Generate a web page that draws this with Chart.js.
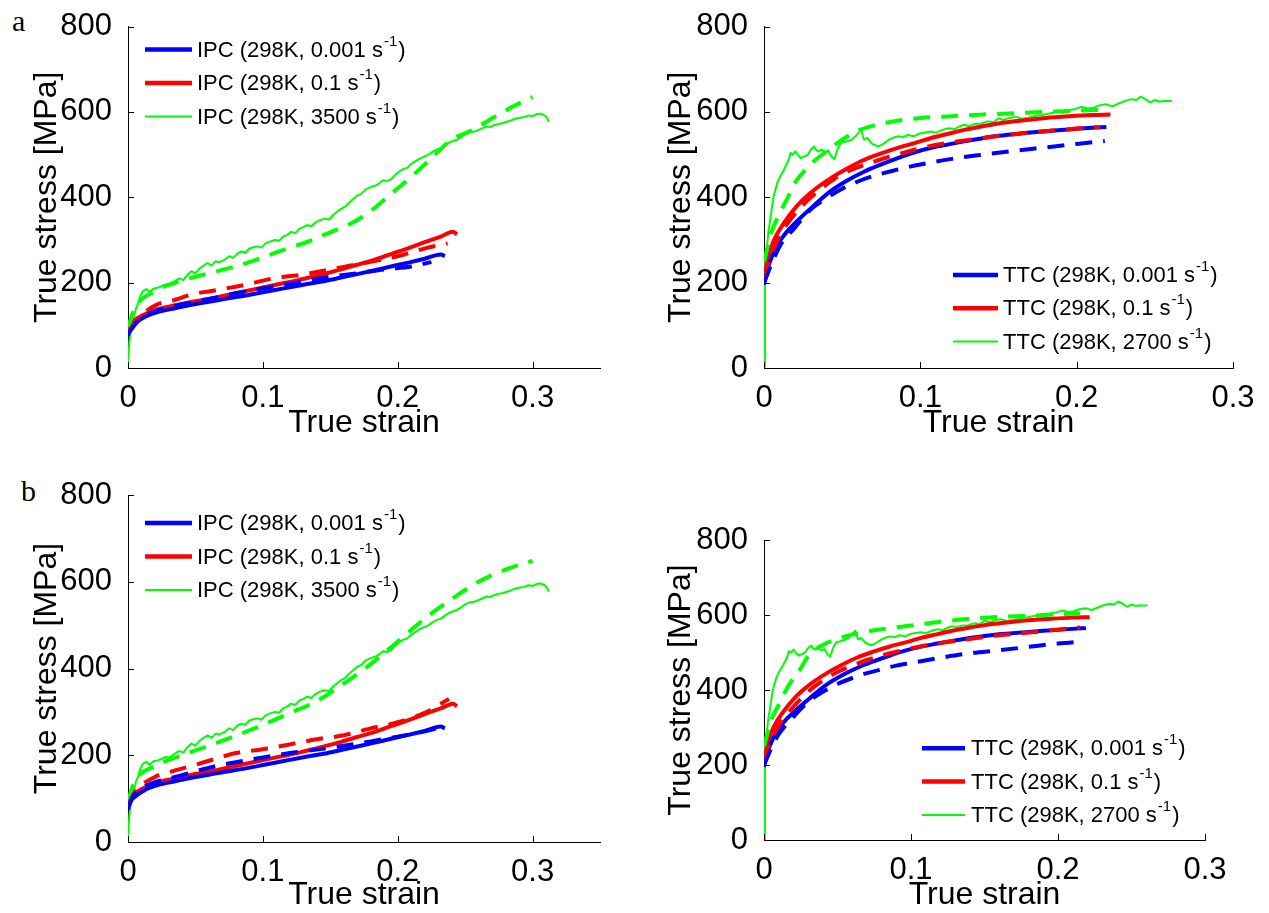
<!DOCTYPE html>
<html><head><meta charset="utf-8">
<script src="https://cdn.jsdelivr.net/npm/chart.js@4.4.1/dist/chart.umd.min.js"></script>
<style>
html,body{margin:0;padding:0;background:#fff;}
#wrap{position:relative;width:1269px;height:913px;overflow:hidden;background:#fff;}
canvas{position:absolute;}
.tag{position:absolute;font-family:"Liberation Serif","Times New Roman",serif;font-size:30px;line-height:30px;color:#000;}
</style></head>
<body><div id="wrap">
<div class="tag" style="left:12px;top:6px">a</div>
<div class="tag" style="left:21px;top:476px">b</div>
<canvas id="c1" width="630" height="450" style="left:0;top:0"></canvas>
<canvas id="c2" width="639" height="450" style="left:630px;top:0"></canvas>
<canvas id="c3" width="630" height="453" style="left:0;top:460px"></canvas>
<canvas id="c4" width="639" height="453" style="left:630px;top:460px"></canvas>
</div>
<script>
// ---------- tick labels / axes ----------
const yTicks = [0, 200, 400, 600, 800];
const xTicks = [0, 0.1, 0.2, 0.3];
const xTitle = 'True strain';
const yTitle = 'True stress [MPa]';

// ---------- legend labels ----------
const ipcLegend = ['IPC (298K, 0.001 s', 'IPC (298K, 0.1 s', 'IPC (298K, 3500 s'];
const ttcLegend = ['TTC (298K, 0.001 s', 'TTC (298K, 0.1 s', 'TTC (298K, 2700 s'];

// ---------- IPC experimental [strain, stress MPa] ----------
const ipcExp001 = [[0,75],[0.002,95],[0.005,104],[0.012,119],[0.022,131],[0.035,140],[0.047,148],[0.06,155],[0.072,162],[0.084,168],[0.096,175],[0.108,182],[0.121,190],[0.133,197],[0.146,204],[0.158,212],[0.17,220],[0.183,229],[0.195,238],[0.208,247],[0.22,256],[0.232,266],[0.235,262]];
const ipcExp01 = [[0,80],[0.002,100],[0.005,112],[0.012,125],[0.022,138],[0.035,147],[0.047,155],[0.06,162],[0.072,170],[0.084,178],[0.096,186],[0.108,194],[0.121,202],[0.133,211],[0.146,221],[0.158,231],[0.17,242],[0.183,254],[0.195,267],[0.208,281],[0.22,295],[0.232,308],[0.241,319],[0.244,313]];
const ipcExp3500 = [[0,10],[0.001,60],[0.0025,104],[0.004,115],[0.006,140],[0.0074,150],[0.009,168],[0.011,180],[0.0136,185],[0.016,178],[0.019,186],[0.022,188],[0.025,192],[0.028,196],[0.031,195],[0.035,204],[0.038,210],[0.041,206],[0.044,218],[0.047,227],[0.05,222],[0.053,233],[0.056,240],[0.059,246],[0.062,240],[0.065,250],[0.068,248],[0.072,254],[0.075,262],[0.078,258],[0.081,268],[0.084,273],[0.087,270],[0.09,280],[0.093,283],[0.096,285],[0.099,282],[0.102,292],[0.105,296],[0.109,300],[0.112,298],[0.115,308],[0.118,312],[0.121,319],[0.124,316],[0.127,326],[0.13,330],[0.133,335],[0.136,332],[0.139,341],[0.142,346],[0.146,350],[0.149,348],[0.152,358],[0.155,366],[0.158,373],[0.161,378],[0.164,388],[0.167,396],[0.17,404],[0.173,408],[0.176,418],[0.18,424],[0.183,427],[0.186,432],[0.189,440],[0.192,438],[0.195,442],[0.198,452],[0.201,460],[0.204,466],[0.207,469],[0.21,478],[0.213,484],[0.216,490],[0.22,496],[0.223,500],[0.226,507],[0.229,512],[0.232,515],[0.235,522],[0.238,528],[0.241,532],[0.244,535],[0.247,541],[0.25,548],[0.253,552],[0.257,554],[0.26,558],[0.263,562],[0.266,566],[0.269,565],[0.272,570],[0.275,572],[0.278,574],[0.281,577],[0.284,580],[0.287,584],[0.29,586],[0.294,588],[0.297,592],[0.3,590],[0.303,595],[0.306,596],[0.309,592],[0.311,585],[0.312,577]];

// ---------- IPC model, panel a ----------
const ipcModA001 = [[0,80],[0.008,112],[0.022,135],[0.035,146],[0.05,156],[0.065,165],[0.08,175],[0.095,184],[0.11,192],[0.125,200],[0.14,209],[0.155,216],[0.17,222],[0.19,231],[0.21,238],[0.225,248]];
const ipcModA01 = [[0,85],[0.008,118],[0.021,148],[0.035,160],[0.048,173],[0.063,181],[0.077,189],[0.09,197],[0.103,207],[0.116,214],[0.13,219],[0.143,227],[0.16,237],[0.175,246],[0.19,255],[0.205,266],[0.221,281],[0.237,292]];
const ipcModA3500 = [[0,95],[0.005,140],[0.02,180],[0.04,205],[0.06,222],[0.075,234],[0.09,248],[0.105,265],[0.12,282],[0.135,298],[0.15,318],[0.165,338],[0.18,368],[0.195,408],[0.21,448],[0.225,492],[0.24,535],[0.255,557],[0.27,585],[0.285,612],[0.3,635]];

// ---------- IPC model, panel b ----------
const ipcModB001 = [[0,80],[0.005,110],[0.02,138],[0.035,150],[0.05,163],[0.065,175],[0.08,184],[0.1,195],[0.12,205],[0.14,213],[0.16,222],[0.18,232],[0.2,243],[0.22,255],[0.232,265]];
const ipcModB01 = [[0,85],[0.005,115],[0.02,150],[0.035,165],[0.05,178],[0.065,192],[0.08,205],[0.1,214],[0.12,225],[0.14,237],[0.16,246],[0.18,262],[0.2,276],[0.22,298],[0.238,330]];
const ipcModB3500 = [[0,95],[0.005,140],[0.02,175],[0.04,200],[0.06,222],[0.08,245],[0.1,270],[0.12,297],[0.14,325],[0.16,365],[0.18,410],[0.2,462],[0.22,515],[0.24,560],[0.26,600],[0.28,628],[0.3,648]];

// ---------- TTC experimental ----------
const ttcExp001 = [[0,195],[0.002,228],[0.0064,273],[0.0128,311],[0.0214,345],[0.032,381],[0.0428,415],[0.0535,440],[0.064,460],[0.075,477],[0.0856,492],[0.096,505],[0.107,516],[0.118,524],[0.128,531],[0.139,538],[0.15,544],[0.165,550],[0.18,555],[0.195,559],[0.21,563],[0.219,565]];
const ttcExp01 = [[0,205],[0.002,250],[0.0064,300],[0.0128,340],[0.0214,381],[0.032,417],[0.0428,445],[0.0535,468],[0.0642,488],[0.075,503],[0.0856,516],[0.0963,527],[0.107,539],[0.118,549],[0.128,558],[0.139,566],[0.15,573],[0.165,580],[0.18,586],[0.195,590],[0.21,593],[0.2216,594]];
const ttcExp2700 = [[0,3],[0.0006,250],[0.0017,275],[0.0028,320],[0.0043,355],[0.006,400],[0.0086,435],[0.0105,450],[0.0128,465],[0.0146,478],[0.016,490],[0.017,504],[0.0185,500],[0.02,508],[0.0215,500],[0.0235,492],[0.026,496],[0.028,500],[0.03,512],[0.032,519],[0.0335,510],[0.035,508],[0.037,512],[0.039,505],[0.041,510],[0.043,496],[0.045,489],[0.047,512],[0.049,527],[0.052,530],[0.056,535],[0.059,545],[0.062,558],[0.064,535],[0.066,539],[0.069,526],[0.073,519],[0.077,527],[0.08,535],[0.083,540],[0.086,543],[0.089,541],[0.092,546],[0.096,543],[0.099,549],[0.103,552],[0.107,554],[0.11,551],[0.114,558],[0.118,562],[0.122,560],[0.125,566],[0.128,570],[0.131,567],[0.135,572],[0.139,573],[0.143,578],[0.147,576],[0.15,585],[0.153,581],[0.157,586],[0.161,589],[0.165,584],[0.17,587],[0.174,591],[0.178,593],[0.182,596],[0.187,600],[0.191,598],[0.195,604],[0.199,607],[0.203,612],[0.207,608],[0.211,610],[0.215,616],[0.219,618],[0.223,613],[0.227,620],[0.231,626],[0.235,630],[0.238,628],[0.241,636],[0.244,630],[0.247,622],[0.25,628],[0.253,624],[0.256,626],[0.259,625],[0.261,626]];

// ---------- TTC model, panel a ----------
const ttcModA001 = [[0,200],[0.005,245],[0.01,285],[0.02,330],[0.03,372],[0.04,398],[0.05,420],[0.06,437],[0.07,450],[0.08,460],[0.09,469],[0.1,477],[0.12,490],[0.14,500],[0.16,509],[0.18,517],[0.2,525],[0.218,532]];
const ttcModA01 = [[0,210],[0.005,268],[0.01,310],[0.02,362],[0.03,400],[0.04,430],[0.05,455],[0.06,470],[0.07,483],[0.08,495],[0.09,505],[0.1,515],[0.12,529],[0.14,539],[0.16,548],[0.18,555],[0.2,561],[0.215,565]];
const ttcModA2700 = [[0,250],[0.005,320],[0.01,362],[0.015,398],[0.02,435],[0.025,458],[0.03,478],[0.04,508],[0.05,535],[0.06,556],[0.07,568],[0.08,576],[0.1,586],[0.12,590],[0.14,594],[0.16,597],[0.18,600],[0.2,603],[0.215,605]];

// ---------- TTC model, panel b ----------
const ttcModB001 = [[0,200],[0.005,245],[0.01,282],[0.02,328],[0.03,368],[0.04,395],[0.05,416],[0.06,432],[0.07,445],[0.08,455],[0.09,465],[0.1,472],[0.12,486],[0.14,498],[0.16,506],[0.18,515],[0.2,524],[0.218,530]];
const ttcModB01 = [[0,210],[0.005,265],[0.01,305],[0.02,355],[0.03,395],[0.04,425],[0.05,448],[0.06,465],[0.07,480],[0.08,492],[0.09,502],[0.1,511],[0.12,525],[0.14,536],[0.16,546],[0.18,553],[0.2,561],[0.215,567]];
const ttcModB2700 = [[0,250],[0.005,320],[0.01,360],[0.015,400],[0.02,432],[0.025,458],[0.03,490],[0.04,520],[0.05,536],[0.06,548],[0.07,556],[0.08,562],[0.1,572],[0.12,582],[0.14,590],[0.16,595],[0.18,598],[0.2,602],[0.215,604]];

// ---------- rendering ----------
const FONT = '"Liberation Sans", Arial, Helvetica, sans-serif';
Chart.defaults.font.family = FONT;
Chart.defaults.color = '#000';
const BLUE = '#0000ff', RED = '#ff0000', GREEN = '#00ff00';

function ds(points, color, width, dashed, smooth) {
  return {
    data: points.map(p => ({x: p[0], y: p[1]})),
    borderColor: color, backgroundColor: color, borderWidth: width,
    borderDash: dashed ? [17, 11] : [],
    borderJoinStyle: 'round',
    pointRadius: 0, pointHoverRadius: 0, fill: false,
    tension: 0, cubicInterpolationMode: smooth ? 'monotone' : 'default',
    order: dashed ? 1 : 2
  };
}

const inwardTicks = {
  id: 'inwardTicks',
  afterDatasetsDraw(chart) {
    const {ctx, chartArea: a, scales: {x, y}} = chart;
    ctx.save();
    ctx.strokeStyle = '#000'; ctx.lineWidth = 1;
    ctx.beginPath();
    x.ticks.forEach(t => { const px = Math.round(x.getPixelForValue(t.value)) + 0.5; ctx.moveTo(px, a.bottom); ctx.lineTo(px, a.bottom - 6); });
    y.ticks.forEach(t => { const py = Math.round(y.getPixelForValue(t.value)) + 0.5; ctx.moveTo(a.left, py); ctx.lineTo(a.left + 6, py); });
    ctx.stroke();
    ctx.restore();
  }
};

const matLegend = {
  id: 'matLegend',
  afterDraw(chart, args, o) {
    const ctx = chart.ctx;
    ctx.save();
    o.labels.forEach((txt, i) => {
      const d = chart.data.datasets[o.datasetIdx[i]];
      const y = o.y + i * o.gap;
      ctx.strokeStyle = d.borderColor;
      ctx.lineWidth = o.lineWidths[i];
      ctx.setLineDash([]);
      ctx.beginPath(); ctx.moveTo(o.x, y); ctx.lineTo(o.x + o.len, y); ctx.stroke();
      ctx.fillStyle = '#000';
      ctx.textBaseline = 'middle';
      ctx.textAlign = 'left';
      ctx.font = o.size + 'px ' + FONT;
      let tx = o.x + o.len + o.textGap;
      ctx.fillText(txt, tx, y + 1);
      tx += ctx.measureText(txt).width;
      ctx.font = Math.round(o.size * 0.68) + 'px ' + FONT;
      ctx.fillText('-1', tx + 1, y - 8);
      tx += ctx.measureText('-1').width + 2;
      ctx.font = o.size + 'px ' + FONT;
      ctx.fillText(')', tx, y + 1);
    });
    ctx.restore();
  }
};

function panel(id, p) {
  const fmt = v => String(Math.round(v * 1000) / 1000);
  new Chart(document.getElementById(id), {
    type: 'line',
    data: { datasets: p.datasets },
    options: {
      responsive: false, animation: false, devicePixelRatio: 1,
      layout: { padding: { top: p.top, right: p.right, bottom: 0, left: 0 } },
      plugins: { legend: { display: false }, tooltip: { enabled: false }, matLegend: p.legend },
      scales: {
        x: {
          type: 'linear', min: 0, max: p.xmax,
          grid: { display: false },
          border: { display: true, color: '#000', width: 1 },
          ticks: { stepSize: 0.1, includeBounds: false, padding: 4, maxRotation: 0, autoSkip: false,
                   font: { size: 31, lineHeight: 1.2 }, color: '#000', callback: fmt },
          title: { display: true, text: xTitle, font: { size: 32, lineHeight: 1 }, color: '#000', padding: { top: 0, bottom: p.xTitlePad } },
          afterFit: s => { s.height = p.xh; }
        },
        y: {
          type: 'linear', min: yTicks[0], max: yTicks[yTicks.length - 1],
          grid: { display: false },
          border: { display: true, color: '#000', width: 1 },
          ticks: { stepSize: yTicks[1] - yTicks[0], padding: 8, font: { size: 31, lineHeight: 1.2 }, color: '#000', callback: fmt },
          title: { display: true, text: yTitle, font: { size: 32, lineHeight: 1 }, color: '#000', padding: { top: p.yTitlePad, bottom: 0 } },
          afterFit: s => { s.width = p.yw; }
        }
      }
    },
    plugins: [inwardTicks, matLegend]
  });
}

const lw = [4.5, 4.5, 2];

panel('c1', {
  top: 22, right: 30, xh: 82, yw: 128, xmax: 0.35, xTitlePad: 11, yTitlePad: 31,
  datasets: [
    ds(ipcExp001, BLUE, 4, false, true), ds(ipcExp01, RED, 4, false, true), ds(ipcExp3500, GREEN, 2, false, false),
    ds(ipcModA001, BLUE, 4, true, true), ds(ipcModA01, RED, 4, true, true), ds(ipcModA3500, GREEN, 4, true, true)
  ],
  legend: { labels: ipcLegend, datasetIdx: [0, 1, 2], lineWidths: lw, x: 145, y: 49.5, gap: 33.5, len: 47, textGap: 5, size: 22 }
});

panel('c2', {
  top: 22, right: 36, xh: 82, yw: 134, xmax: 0.3, xTitlePad: 11, yTitlePad: 35,
  datasets: [
    ds(ttcExp001, BLUE, 4, false, true), ds(ttcExp01, RED, 4, false, true), ds(ttcExp2700, GREEN, 2, false, false),
    ds(ttcModA001, BLUE, 4, true, true), ds(ttcModA01, RED, 4, true, true), ds(ttcModA2700, GREEN, 4, true, true)
  ],
  legend: { labels: ttcLegend, datasetIdx: [0, 1, 2], lineWidths: lw, x: 323, y: 275, gap: 33.3, len: 45, textGap: 5, size: 22 }
});

panel('c3', {
  top: 35, right: 30, xh: 71, yw: 128, xmax: 0.35, xTitlePad: 2, yTitlePad: 31,
  datasets: [
    ds(ipcExp001, BLUE, 4, false, true), ds(ipcExp01, RED, 4, false, true), ds(ipcExp3500, GREEN, 2, false, false),
    ds(ipcModB001, BLUE, 4, true, true), ds(ipcModB01, RED, 4, true, true), ds(ipcModB3500, GREEN, 4, true, true)
  ],
  legend: { labels: ipcLegend, datasetIdx: [0, 1, 2], lineWidths: lw, x: 145, y: 63, gap: 33.5, len: 47, textGap: 5, size: 22 }
});

panel('c4', {
  top: 80, right: 64, xh: 73, yw: 134, xmax: 0.3, xTitlePad: 2, yTitlePad: 35,
  datasets: [
    ds(ttcExp001, BLUE, 4, false, true), ds(ttcExp01, RED, 4, false, true), ds(ttcExp2700, GREEN, 2, false, false),
    ds(ttcModB001, BLUE, 4, true, true), ds(ttcModB01, RED, 4, true, true), ds(ttcModB2700, GREEN, 4, true, true)
  ],
  legend: { labels: ttcLegend, datasetIdx: [0, 1, 2], lineWidths: lw, x: 292, y: 288.3, gap: 33.3, len: 43, textGap: 6, size: 22 }
});
</script>
</body></html>
